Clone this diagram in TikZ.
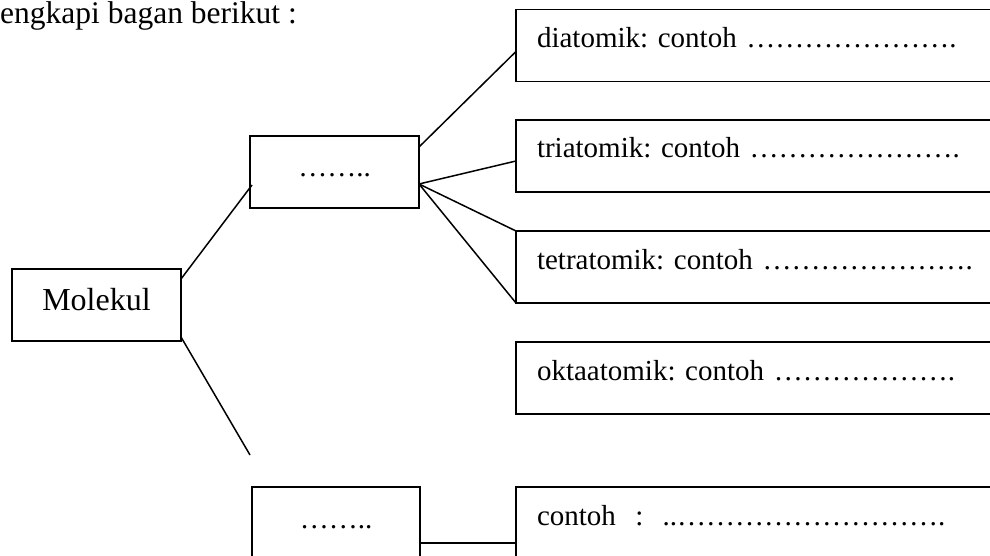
\documentclass[tikz,border=0pt]{standalone}
\usepackage{fontspec}
\setmainfont{Liberation Serif}
\newcommand{\elps}{…}
\frenchspacing
\begin{document}
\begin{tikzpicture}[x=1pt,y=-1pt,
  box/.style={draw, line width=1.9pt, outer sep=0pt, inner ysep=0pt, anchor=north west},
  cbox/.style={box, inner xsep=0pt, text width=#1, align=center,
    text height=41pt, text depth=31pt, font=\fontsize{29}{34}\selectfont},
  rbox/.style={box, inner xsep=21pt, text width=442pt, align=left,
    text height=38pt, text depth=34pt, font=\fontsize{29}{34}\selectfont},
  link/.style={line width=1.5pt}]
\useasboundingbox (0,0) rectangle (990,556);
\clip (0,0) rectangle (990,556);

\node[anchor=base west, inner sep=0pt, font=\fontsize{31.5}{36}\selectfont] (title) at (0,23.5) {engkapi bagan berikut :};

\node[cbox=169pt, font=\fontsize{32}{38}\selectfont] (mol) at (12,269) {Molekul};
\node[cbox=169pt] (up) at (250,136) {\elps\elps..};
\node[cbox=168pt, text depth=60pt] (low) at (252,487) {\elps\elps..};

\node[rbox] (dia) at (516,9.5) {diatomik: contoh \elps\elps\elps\elps\elps\elps\elps.};
\node[rbox] (tri) at (516,120) {triatomik: contoh \elps\elps\elps\elps\elps\elps\elps.};
\node[rbox] (tet) at (516,231) {tetratomik: contoh \elps\elps\elps\elps\elps\elps\elps.};
\node[rbox] (okt) at (516,342) {oktaatomik: contoh \elps\elps\elps\elps\elps\elps.};
\node[rbox, text depth=60pt] (con) at (516,487) {contoh\ \ :\ \ ..\elps\elps\elps\elps\elps\elps\elps\elps\elps.};

\coordinate (lowend) at (250,455);

\draw[link] ([yshift=-10pt]mol.north east) -- ([xshift=2pt,yshift=-13pt]up.west);
\draw[link] ([yshift=4pt]mol.south east) -- (lowend);
\draw[link] ([yshift=-11pt]up.north east) -- ([yshift=-42pt]dia.north west);
\draw[link] ([yshift=-12pt]up.east) -- ([yshift=-41pt]tri.north west);
\draw[link] ([yshift=-12pt]up.east) -- (tet.north west);
\draw[link] ([yshift=-12pt]up.east) -- (tet.south west);
\draw[link] ([yshift=-56pt]low.north east) -- ([yshift=-56pt]con.north west);
\end{tikzpicture}
\end{document}
